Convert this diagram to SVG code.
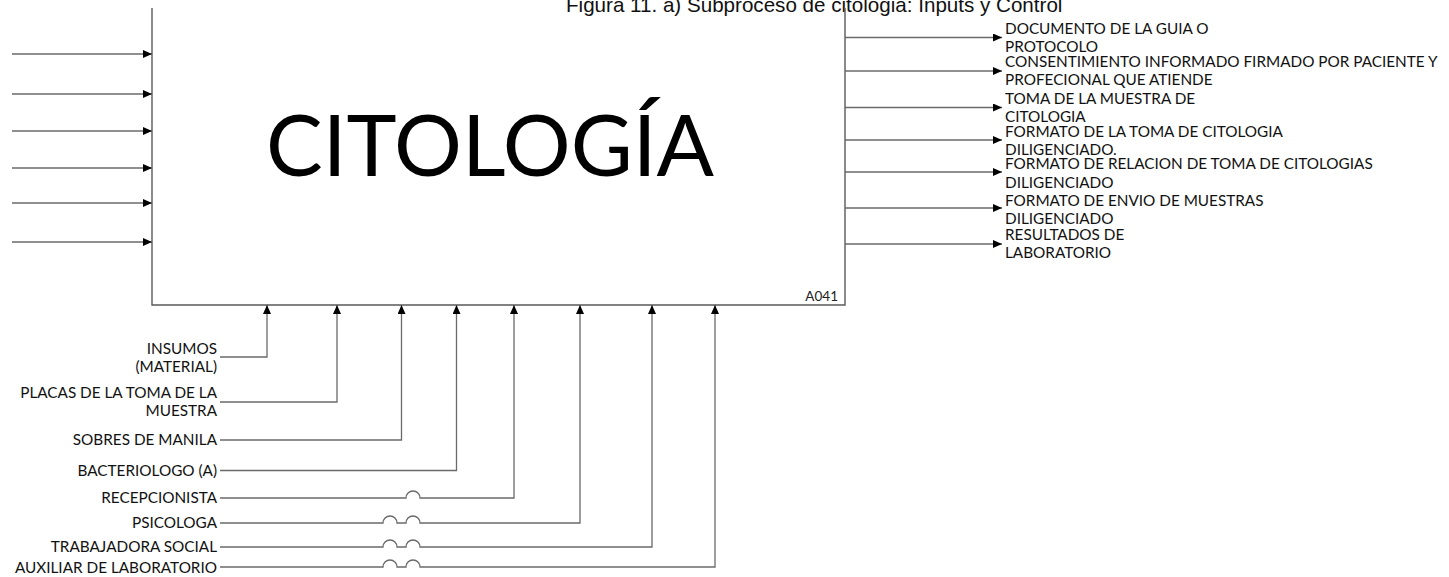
<svg xmlns="http://www.w3.org/2000/svg" width="1449" height="577" viewBox="0 0 1449 577">
<style>
.ln{fill:none;stroke:#6a6a6a;stroke-width:1.3}
.box{fill:none;stroke:#5a5a5a;stroke-width:1.4}
.lbl{font-family:Lato,"Open Sans",sans-serif;font-size:15.3px;fill:#111}
.r{text-anchor:end}
.title{font-family:"Liberation Sans",Arial,sans-serif;font-size:20.6px;fill:#111}
.big{font-family:Lato,"Open Sans",sans-serif;font-size:86px;fill:#000;text-anchor:middle}
.code{font-family:Lato,"Open Sans",sans-serif;font-size:13.5px;fill:#222;text-anchor:end}
</style>
<defs>
<marker id="ah" markerWidth="9" markerHeight="8" refX="9" refY="4" orient="auto" markerUnits="userSpaceOnUse">
<path d="M0,0 L9,4 L0,8 z" fill="#000"/>
</marker>
</defs>
<rect width="1449" height="577" fill="#fff"/>
<text class="title" x="566" y="12">Figura 11. a) Subproceso de citologia: Inputs y Control</text>
<g id="node-citologia">
<path class="box" d="M152,8 V305 H845 V8"/>
<text class="big" x="490" y="176" textLength="448" lengthAdjust="spacingAndGlyphs">CITOLOGÍA</text>
<text class="code" x="838" y="301">A041</text>
</g>
<g id="connectors">
<g id="inputs">
<line class="ln" x1="12" y1="54" x2="152" y2="54" marker-end="url(#ah)"/>
<line class="ln" x1="12" y1="94" x2="152" y2="94" marker-end="url(#ah)"/>
<line class="ln" x1="12" y1="131" x2="152" y2="131" marker-end="url(#ah)"/>
<line class="ln" x1="12" y1="168" x2="152" y2="168" marker-end="url(#ah)"/>
<line class="ln" x1="12" y1="203" x2="152" y2="203" marker-end="url(#ah)"/>
<line class="ln" x1="12" y1="242" x2="152" y2="242" marker-end="url(#ah)"/>
</g>
<g id="outputs">
<line class="ln" x1="845" y1="37.5" x2="1002" y2="37.5" marker-end="url(#ah)"/>
<line class="ln" x1="845" y1="71" x2="1002" y2="71" marker-end="url(#ah)"/>
<line class="ln" x1="845" y1="107.5" x2="1002" y2="107.5" marker-end="url(#ah)"/>
<line class="ln" x1="845" y1="140" x2="1002" y2="140" marker-end="url(#ah)"/>
<line class="ln" x1="845" y1="172" x2="1002" y2="172" marker-end="url(#ah)"/>
<line class="ln" x1="845" y1="208" x2="1002" y2="208" marker-end="url(#ah)"/>
<line class="ln" x1="845" y1="244" x2="1002" y2="244" marker-end="url(#ah)"/>
</g>
<g id="controls">
<path class="ln" d="M220,357 H267 V305" marker-end="url(#ah)"/>
<path class="ln" d="M220,402 H337 V305" marker-end="url(#ah)"/>
<path class="ln" d="M220,440 H401.5 V305" marker-end="url(#ah)"/>
<path class="ln" d="M220,470.5 H456.5 V305" marker-end="url(#ah)"/>
<path class="ln" d="M220,498 H406 A7,7 0 0 1 420,498 H514 V305" marker-end="url(#ah)"/>
<path class="ln" d="M220,523 H383 A7,7 0 0 1 397,523 H406 A7,7 0 0 1 420,523 H580 V305" marker-end="url(#ah)"/>
<path class="ln" d="M220,547 H383 A7,7 0 0 1 397,547 H406 A7,7 0 0 1 420,547 H652 V305" marker-end="url(#ah)"/>
<path class="ln" d="M220,567 H383 A7,7 0 0 1 397,567 H406 A7,7 0 0 1 420,567 H715 V305" marker-end="url(#ah)"/>
</g>
</g>
<g id="output-labels">
<g id="out1"><text class="lbl" x="1005" y="33.5">DOCUMENTO DE LA GUIA O</text><text class="lbl" x="1005" y="51.5">PROTOCOLO</text></g>
<g id="out2"><text class="lbl" x="1005" y="67">CONSENTIMIENTO INFORMADO FIRMADO POR PACIENTE Y</text><text class="lbl" x="1005" y="85">PROFECIONAL QUE ATIENDE</text></g>
<g id="out3"><text class="lbl" x="1005" y="103.5">TOMA DE LA MUESTRA DE</text><text class="lbl" x="1005" y="121.5">CITOLOGIA</text></g>
<g id="out4"><text class="lbl" x="1005" y="136.5">FORMATO DE LA TOMA DE CITOLOGIA</text><text class="lbl" x="1005" y="154.5">DILIGENCIADO.</text></g>
<g id="out5"><text class="lbl" x="1005" y="169">FORMATO DE RELACION DE TOMA DE CITOLOGIAS</text><text class="lbl" x="1005" y="187.5">DILIGENCIADO</text></g>
<g id="out6"><text class="lbl" x="1005" y="205.5">FORMATO DE ENVIO DE MUESTRAS</text><text class="lbl" x="1005" y="223.5">DILIGENCIADO</text></g>
<g id="out7"><text class="lbl" x="1005" y="240">RESULTADOS DE</text><text class="lbl" x="1005" y="258">LABORATORIO</text></g>
</g>
<g id="control-labels">
<g id="c1"><text class="lbl r" x="217" y="353.5">INSUMOS</text><text class="lbl r" x="217" y="371.5">(MATERIAL)</text></g>
<g id="c2"><text class="lbl r" x="217" y="397.5">PLACAS DE LA TOMA DE LA</text><text class="lbl r" x="217" y="416">MUESTRA</text></g>
<g id="c3"><text class="lbl r" x="217" y="445">SOBRES DE MANILA</text></g>
<g id="c4"><text class="lbl r" x="217" y="476">BACTERIOLOGO (A)</text></g>
<g id="c5"><text class="lbl r" x="217" y="503">RECEPCIONISTA</text></g>
<g id="c6"><text class="lbl r" x="217" y="528">PSICOLOGA</text></g>
<g id="c7"><text class="lbl r" x="217" y="552">TRABAJADORA SOCIAL</text></g>
<g id="c8"><text class="lbl r" x="217" y="572.5">AUXILIAR DE LABORATORIO</text></g>
</g>
</svg>
